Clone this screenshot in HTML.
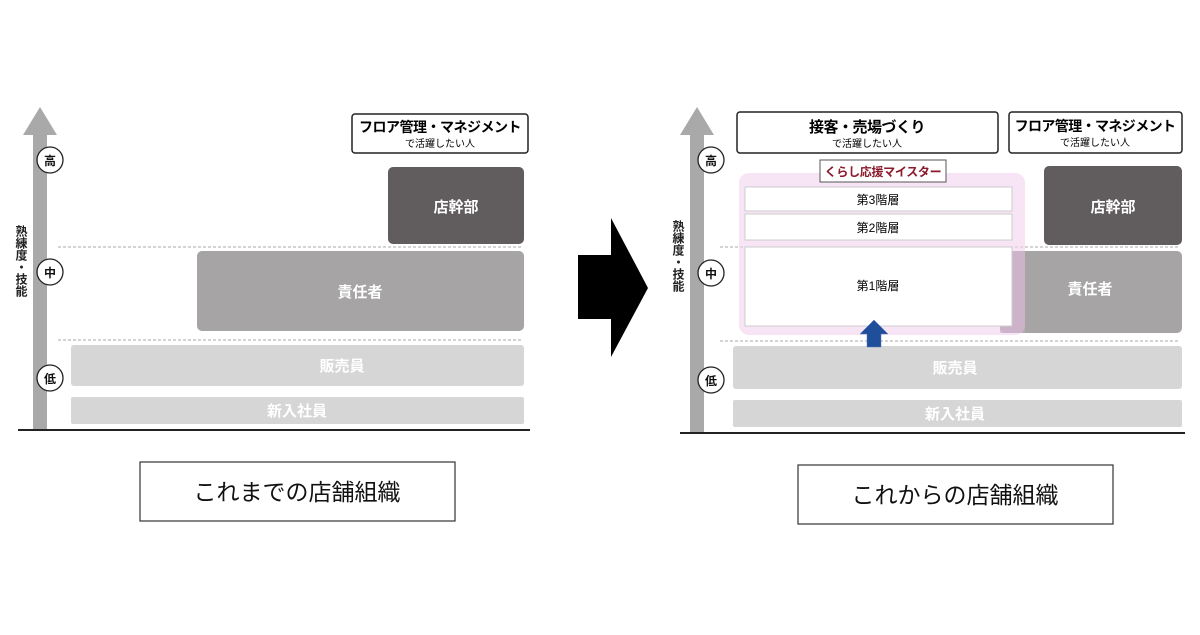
<!DOCTYPE html>
<html><head><meta charset="utf-8"><style>
html,body{margin:0;padding:0;background:#fff;}
svg text{font-family:"Liberation Sans","Noto Sans CJK JP",sans-serif;}
</style></head><body>
<svg width="1200" height="630" viewBox="0 0 1200 630" xmlns="http://www.w3.org/2000/svg">
<!-- LEFT PANEL -->
<polygon points="40,107 23,135 33,135 33,430 47,430 47,135 57,135" fill="#a9a9a9"/>
<line x1="18" y1="430" x2="530" y2="430" stroke="#222" stroke-width="2"/>
<text x="21" y="225" font-size="12" font-weight="bold" fill="#222" style="writing-mode:vertical-rl">熟練度・技能</text>
<g font-size="12" font-weight="bold" text-anchor="middle" fill="#111">
<circle cx="50" cy="160" r="13" fill="#fff" stroke="#222" stroke-width="1.3"/><text x="50" y="165">高</text>
<circle cx="50" cy="272" r="13" fill="#fff" stroke="#222" stroke-width="1.3"/><text x="50" y="277">中</text>
<circle cx="50" cy="378" r="13" fill="#fff" stroke="#222" stroke-width="1.3"/><text x="50" y="383">低</text>
</g>
<line x1="58" y1="247" x2="522" y2="247" stroke="#aaa" stroke-dasharray="3,2"/>
<line x1="58" y1="340" x2="522" y2="340" stroke="#aaa" stroke-dasharray="3,2"/>
<rect x="352" y="114" width="176" height="39" rx="3" fill="#fff" stroke="#222" stroke-width="1.5"/>
<text x="440" y="132" font-size="14" font-weight="bold" text-anchor="middle" letter-spacing="-0.5">フロア管理・マネジメント</text>
<text x="440" y="147" font-size="10" text-anchor="middle">で活躍したい人</text>
<rect x="388" y="167" width="136" height="77" rx="5" fill="#615c5e"/>
<text x="456" y="212" font-size="15" font-weight="bold" fill="#fff" text-anchor="middle">店幹部</text>
<rect x="197" y="251" width="327" height="80" rx="5" fill="#a6a4a5"/>
<text x="360" y="297" font-size="15" font-weight="bold" fill="#fff" text-anchor="middle">責任者</text>
<rect x="71" y="345" width="453" height="41" rx="3" fill="#d6d6d6"/>
<text x="342" y="371" font-size="15" font-weight="bold" fill="#fff" text-anchor="middle">販売員</text>
<rect x="71" y="397" width="453" height="27" rx="2" fill="#d6d6d6"/>
<text x="297" y="416" font-size="15" font-weight="bold" fill="#fff" text-anchor="middle">新入社員</text>
<rect x="140" y="462" width="315" height="59" fill="#fff" stroke="#333" stroke-width="1.2"/>
<text x="297" y="500" font-size="23" text-anchor="middle" fill="#111">これまでの店舗組織</text>

<!-- CENTER ARROW -->
<polygon points="578,255 611,255 611,218 648,288 611,357 611,319 578,319" fill="#000"/>

<!-- RIGHT PANEL -->
<polygon points="697,107 680,135 690,135 690,432 704,432 704,135 714,135" fill="#a9a9a9"/>
<line x1="680" y1="433" x2="1185" y2="433" stroke="#222" stroke-width="2"/>
<text x="678" y="220" font-size="12" font-weight="bold" fill="#222" style="writing-mode:vertical-rl">熟練度・技能</text>
<g font-size="12" font-weight="bold" text-anchor="middle" fill="#111">
<circle cx="711" cy="160" r="13" fill="#fff" stroke="#222" stroke-width="1.3"/><text x="711" y="165">高</text>
<circle cx="711" cy="273" r="13" fill="#fff" stroke="#222" stroke-width="1.3"/><text x="711" y="278">中</text>
<circle cx="711" cy="380" r="13" fill="#fff" stroke="#222" stroke-width="1.3"/><text x="711" y="385">低</text>
</g>
<line x1="720" y1="247" x2="1180" y2="247" stroke="#aaa" stroke-dasharray="3,2"/>
<line x1="720" y1="341" x2="1180" y2="341" stroke="#aaa" stroke-dasharray="3,2"/>
<rect x="737" y="112" width="261" height="41" rx="3" fill="#fff" stroke="#222" stroke-width="1.5"/>
<text x="867" y="132" font-size="15" font-weight="bold" text-anchor="middle" letter-spacing="-0.5">接客・売場づくり</text>
<text x="867" y="147" font-size="10" text-anchor="middle">で活躍したい人</text>
<rect x="1009" y="112" width="173" height="41" rx="3" fill="#fff" stroke="#222" stroke-width="1.5"/>
<text x="1095" y="131" font-size="14" font-weight="bold" text-anchor="middle" letter-spacing="-0.6">フロア管理・マネジメント</text>
<text x="1095" y="146" font-size="10" text-anchor="middle">で活躍したい人</text>
<rect x="1044" y="166" width="138" height="79" rx="5" fill="#615c5e"/>
<text x="1113" y="212" font-size="15" font-weight="bold" fill="#fff" text-anchor="middle">店幹部</text>
<rect x="1000" y="251" width="182" height="82" rx="5" fill="#a6a4a5"/>
<text x="1090" y="294" font-size="15" font-weight="bold" fill="#fff" text-anchor="middle">責任者</text>
<rect x="733" y="346" width="449" height="43" rx="3" fill="#d6d6d6"/>
<text x="955" y="373" font-size="15" font-weight="bold" fill="#fff" text-anchor="middle">販売員</text>
<rect x="733" y="400" width="449" height="27" rx="2" fill="#d6d6d6"/>
<text x="955" y="419" font-size="15" font-weight="bold" fill="#fff" text-anchor="middle">新入社員</text>
<rect x="739" y="173" width="286" height="162" rx="10" fill="#f2d3ef" fill-opacity="0.6"/>
<rect x="1000" y="251" width="25" height="82" fill="#c8aac4" fill-opacity="0.6"/>
<rect x="745" y="187" width="267" height="24" fill="#fff" stroke="#ccc"/>
<text x="878" y="204" font-size="12" text-anchor="middle">第3階層</text>
<rect x="745" y="214" width="267" height="26" fill="#fff" stroke="#ccc"/>
<text x="878" y="232" font-size="12" text-anchor="middle">第2階層</text>
<rect x="745" y="247" width="267" height="79" fill="#fff" stroke="#ccc"/>
<text x="878" y="290" font-size="12" text-anchor="middle">第1階層</text>
<rect x="820" y="160" width="126" height="22" fill="#fff" stroke="#555"/>
<text x="883" y="176" font-size="12" font-weight="bold" fill="#8b1a2b" text-anchor="middle" letter-spacing="-0.3">くらし応援マイスター</text>
<polygon points="874,320 860,334 867,334 867,347 881,347 881,334 888,334" fill="#1f4e9a" stroke="#5a7ab8" stroke-width="0.5"/>
<rect x="798" y="465" width="315" height="59" fill="#fff" stroke="#333" stroke-width="1.2"/>
<text x="955" y="503" font-size="23" text-anchor="middle" fill="#111">これからの店舗組織</text>
</svg>
</body></html>
